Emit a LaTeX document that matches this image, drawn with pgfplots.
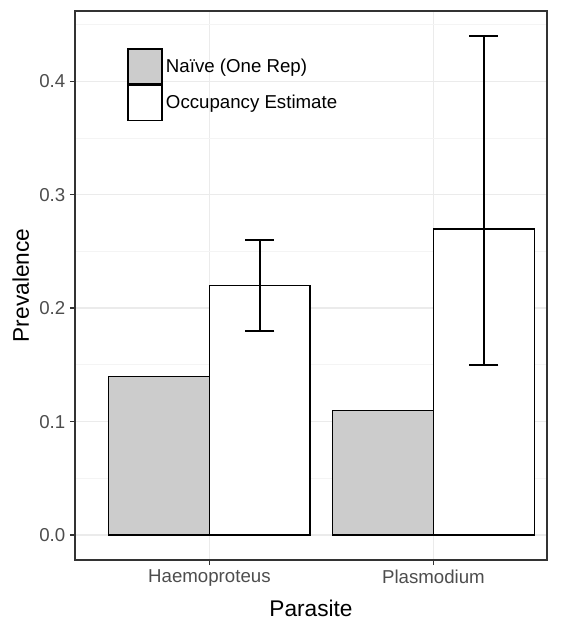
\documentclass[border=0pt]{standalone}
\usepackage{pgfplots}
\pgfplotsset{compat=1.18}
\usepackage{fontspec}
\setmainfont{Liberation Sans}
\definecolor{barfill}{HTML}{CCCCCC}
\definecolor{gridmaj}{HTML}{EBEBEB}
\definecolor{gridmin}{HTML}{F4F4F4}
\definecolor{ticktxt}{HTML}{4D4D4D}
\definecolor{border}{HTML}{333333}
\begin{document}
\begin{tikzpicture}
\path[use as bounding box] (-56.25pt,-45.75pt) rectangle (364.5pt,420pt);
\begin{axis}[
  at={(0,0)}, anchor=south west,
  scale only axis, width=354pt, height=411.75pt,
  xmin=0.4, xmax=2.507, ymin=-0.022, ymax=0.462,
  ybar, bar width=0.45, bar shift=0pt,
  xtick={1,2}, xticklabels={Haemoproteus,Plasmodium},
  ytick={0,0.1,0.2,0.3,0.4},
  minor ytick={0.05,0.15,0.25,0.35,0.45},
  scaled y ticks=false,
  yticklabel style={/pgf/number format/.cd, fixed, fixed zerofill, precision=1},
  /pgf/number format/assume math mode=true,
  xmajorgrids, ymajorgrids, yminorgrids,
  major grid style={gridmaj, line width=1.1pt},
  minor grid style={gridmin, line width=0.6pt},
  tick align=outside, tick pos=left,
  major tick length=3.75pt, minor tick length=0pt,
  tick style={border, line width=1.1pt},
  axis line style={border, line width=1.1pt},
  ticklabel style={font=\fontsize{14}{16}\selectfont, text=ticktxt},
  xlabel={Parasite}, ylabel={Prevalence},
  label style={font=\fontsize{17}{20}\selectfont, text=black},
  xlabel style={at={(axis description cs:0.5,-0.1038)}, anchor=base},
  ylabel style={at={(axis description cs:-0.0975,0.5)}, anchor=base},
  legend style={at={(0.110,0.9326)}, anchor=north west, draw=none, fill=none,
    inner sep=0pt, row sep=0pt, column sep=2.5pt,
    nodes={inner sep=0pt, font=\fontsize{14}{16}\selectfont}},
  legend cell align=left,
  legend image code/.code={\draw[#1, line width=1.1pt] (0pt,-13.125pt) rectangle (25.5pt,13.125pt);},
]
\addplot[fill=barfill, draw=black, line width=1.1pt] coordinates {(0.775,0.14) (1.775,0.11)};
\addlegendentry{Naïve (One Rep)}
\addplot[fill=white, draw=black, line width=1.1pt,
  error bars/.cd, y dir=both, y explicit,
  error bar style={line width=1.3pt, black},
  error mark options={line width=1.3pt, mark size=10.9pt, black, rotate=90}]
  coordinates {(1.225,0.22) +- (0,0.04) (2.225,0.27) += (0,0.17) -= (0,0.12)};
\addlegendentry{Occupancy Estimate}
\end{axis}
\end{tikzpicture}
\end{document}
